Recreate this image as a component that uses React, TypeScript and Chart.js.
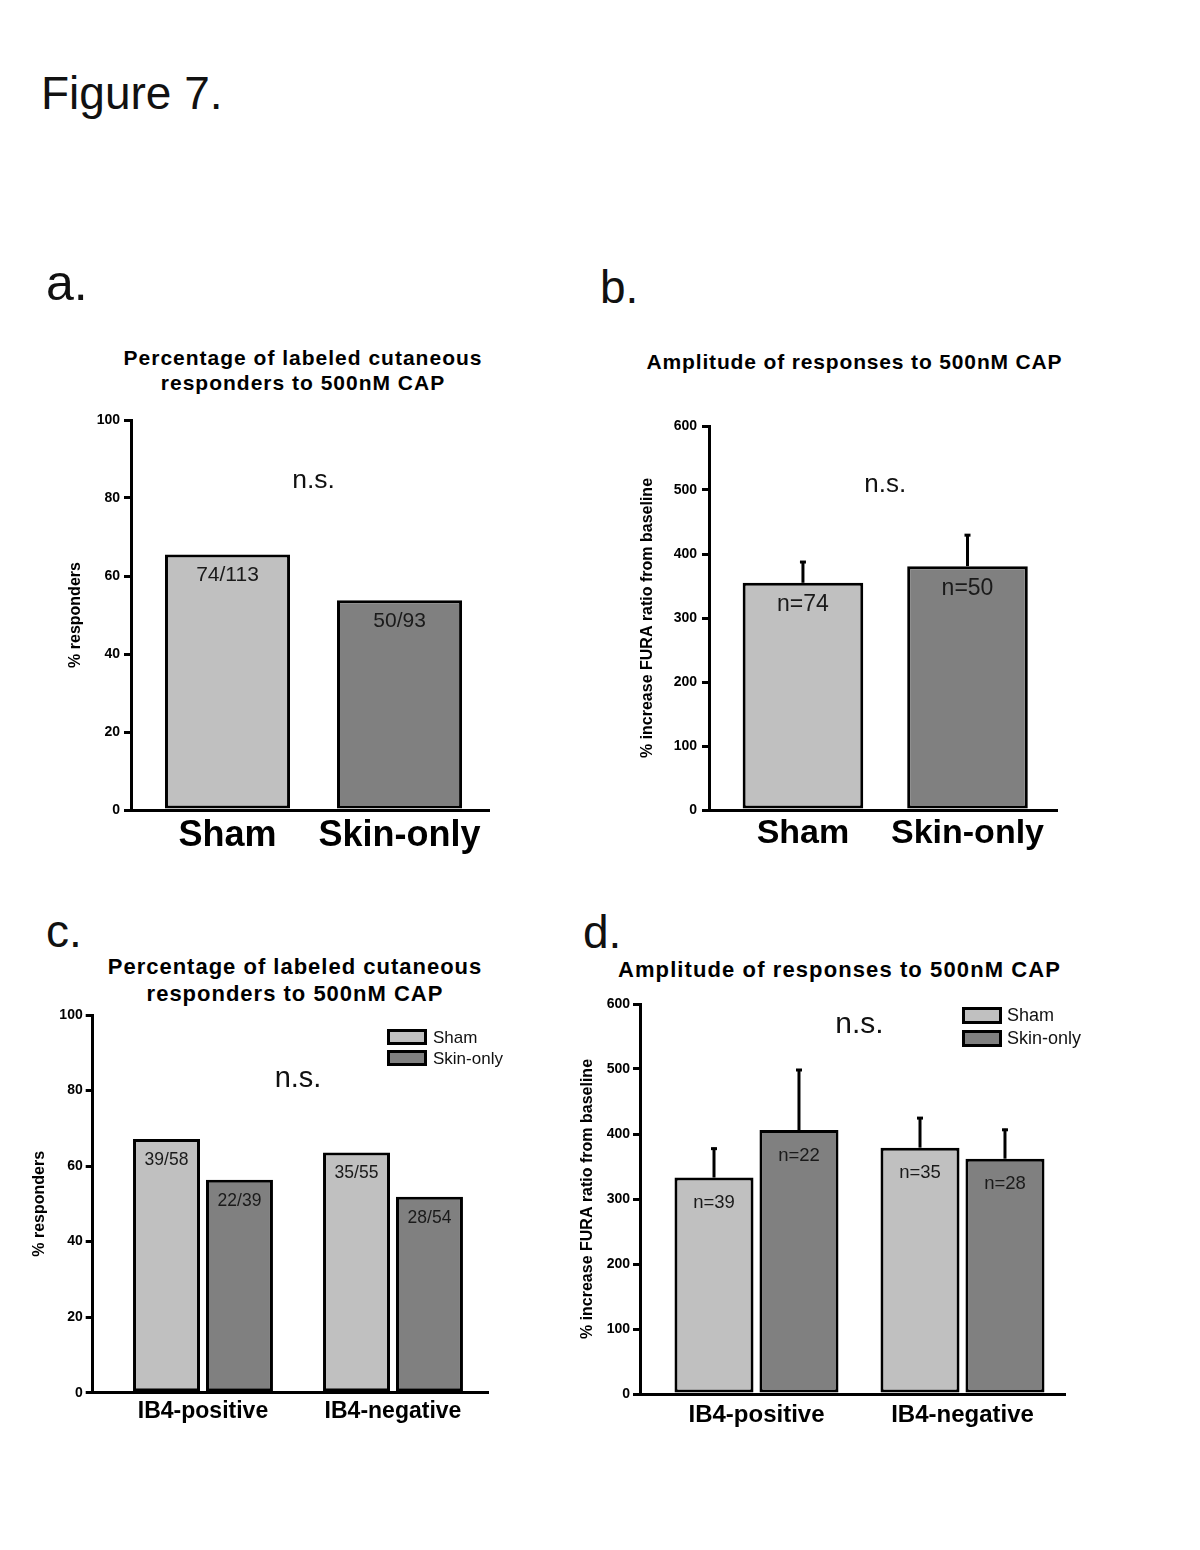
import React, { useEffect, useRef } from "react";
import { Chart, registerables } from "chart.js";

Chart.register(...registerables);

const FONT = "'Liberation Sans', Arial, Helvetica, sans-serif";
Chart.defaults.font.family = FONT;
Chart.defaults.color = "#000";

// ---------- shared ----------
const SERIES_NAMES = ["Sham", "Skin-only"];
const SERIES_COLORS = ["#c0c0c0", "#808080"];
const NS_TEXT = "n.s.";
const NS_X = 0.5;

// ---------- panel a ----------
const A_TITLE = ["Percentage of labeled cutaneous", "responders to 500nM CAP"];
const A_CATEGORIES = ["Sham", "Skin-only"];
const A_VALUES = [65.5, 53.8];
const A_BAR_LABELS = ["74/113", "50/93"];
const A_Y_TITLE = "% responders";
const A_NS_Y = 82.5;

// ---------- panel b ----------
const B_TITLE = ["Amplitude of responses to 500nM CAP"];
const B_CATEGORIES = ["Sham", "Skin-only"];
const B_MEANS = [355, 381];
const B_ERRORS = [34, 50];
const B_BAR_LABELS = ["n=74", "n=50"];
const B_Y_TITLE = "% increase FURA ratio from baseline";
const B_NS_Y = 497;

// ---------- panel c ----------
const C_TITLE = ["Percentage of labeled cutaneous", "responders to 500nM CAP"];
const C_CATEGORIES = ["IB4-positive", "IB4-negative"];
const C_SHAM = [67.2, 63.6];
const C_SKIN = [56.4, 51.9];
const C_SHAM_LABELS = ["39/58", "35/55"];
const C_SKIN_LABELS = ["22/39", "28/54"];
const C_Y_TITLE = "% responders";
const C_NS_Y = 81;

// ---------- panel d ----------
const D_TITLE = ["Amplitude of responses to 500nM CAP"];
const D_CATEGORIES = ["IB4-positive", "IB4-negative"];
const D_SHAM = [333, 379];
const D_SHAM_ERR = [46, 47];
const D_SKIN = [406, 362];
const D_SKIN_ERR = [94, 46];
const D_SHAM_LABELS = ["n=39", "n=35"];
const D_SKIN_LABELS = ["n=22", "n=28"];
const D_Y_TITLE = "% increase FURA ratio from baseline";
const D_NS_Y = 555;

// ---------- y axis ranges ----------
const PCT_MAX = 100;
const PCT_STEP = 20;
const AMP_MAX = 600;
const AMP_STEP = 100;

const toPoints = (vals: number[]) => vals.map((v, i) => ({ x: i, y: v }));

const marksPlugin = {
  id: "figureMarks",
  afterDatasetsDraw(chart: any, _args: any, opts: any) {
    const ctx = chart.ctx;
    const xs = chart.scales.x;
    const ys = chart.scales.y;
    ctx.save();
    chart.data.datasets.forEach((ds: any, di: number) => {
      const meta = chart.getDatasetMeta(di);
      meta.data.forEach((bar: any, i: number) => {
        const pt = ds.data[i];
        if (ds.errors) {
          const yTop = ys.getPixelForValue(pt.y + ds.errors[i]);
          ctx.strokeStyle = "#000";
          ctx.lineWidth = 3;
          ctx.lineCap = "butt";
          ctx.beginPath();
          ctx.moveTo(bar.x, bar.y);
          ctx.lineTo(bar.x, yTop);
          ctx.stroke();
          ctx.beginPath();
          ctx.moveTo(bar.x - 3, yTop + 1);
          ctx.lineTo(bar.x + 3, yTop + 1);
          ctx.stroke();
        }
        if (ds.barLabels) {
          ctx.fillStyle = "#1a1a1a";
          ctx.font = `${opts.labelSize}px ${FONT}`;
          ctx.textAlign = "center";
          ctx.textBaseline = "middle";
          ctx.fillText(ds.barLabels[i], bar.x, bar.y + opts.labelOffset);
        }
      });
    });
    // n.s. annotation
    ctx.fillStyle = "#111";
    ctx.font = `${opts.nsSize}px ${FONT}`;
    ctx.textAlign = "center";
    ctx.textBaseline = "alphabetic";
    ctx.fillText(NS_TEXT, xs.getPixelForValue(NS_X), ys.getPixelForValue(opts.nsY));
    // legend
    const lg = opts.legend;
    if (lg) {
      const area = chart.chartArea;
      chart.data.datasets.forEach((ds: any, di: number) => {
        const bx = area.right - lg.dx;
        const by = area.top + lg.dy + di * lg.gap;
        ctx.fillStyle = ds.backgroundColor;
        ctx.fillRect(bx, by, lg.w, lg.h);
        ctx.strokeStyle = "#000";
        ctx.lineWidth = 3;
        ctx.strokeRect(bx + 1.5, by + 1.5, lg.w - 3, lg.h - 3);
        ctx.fillStyle = "#111";
        ctx.font = `${lg.size}px ${FONT}`;
        ctx.textAlign = "left";
        ctx.textBaseline = "middle";
        ctx.fillText(ds.label, bx + lg.w + lg.textGap, by + lg.h / 2 + 1);
      });
    }
    ctx.restore();
  },
};

function buildConfig(p: any) {
  return {
    type: "bar",
    data: { datasets: p.datasets },
    options: {
      responsive: false,
      animation: false,
      devicePixelRatio: 1,
      layout: { padding: p.padding },
      scales: {
        x: {
          type: "linear",
          offset: false,
          bounds: "data",
          min: p.xMin,
          max: p.xMax,
          afterBuildTicks: (s: any) => {
            s.ticks = p.categories.map((_: string, i: number) => ({ value: i }));
          },
          afterFit: (s: any) => {
            s.height = p.xHeight;
          },
          grid: { display: false, drawTicks: false, offset: false },
          border: { display: true, color: "#000", width: 3 },
          ticks: {
            callback: (v: number) => p.categories[Math.round(v)] ?? "",
            font: { size: p.xFont, weight: "bold" },
            color: "#000",
            padding: p.xPad,
            maxRotation: 0,
            autoSkip: false,
          },
        },
        y: {
          min: 0,
          max: p.yMax,
          afterFit: (s: any) => {
            s.width = p.yWidth;
          },
          ticks: {
            stepSize: p.yStep,
            font: { size: 14, weight: "bold" },
            color: "#000",
            padding: p.yPad,
          },
          grid: {
            display: true,
            drawOnChartArea: false,
            drawTicks: true,
            tickLength: 7,
            lineWidth: 3,
            color: "#000",
          },
          border: { display: true, color: "#000", width: 3 },
          title: {
            display: true,
            text: p.yTitle,
            font: { size: 16, weight: "bold" },
            color: "#000",
            padding: 0,
          },
        },
      },
      plugins: {
        legend: { display: false },
        tooltip: { enabled: false },
        title: { display: false },
        figureMarks: p.marks,
      },
    },
    plugins: [marksPlugin],
  };
}

const barStyle = (color: string, catPct: number, barPct: number) => ({
  backgroundColor: color,
  borderColor: "#000",
  borderWidth: 3,
  borderSkipped: false,
  categoryPercentage: catPct,
  barPercentage: barPct,
});

const PANELS: any[] = [
  {
    key: "a",
    left: 40, top: 400, w: 470, h: 470,
    padding: { left: 26.4, top: 20, right: 21, bottom: 10 },
    yWidth: 64.6, xHeight: 50,
    xMin: -0.561, xMax: 1.52,
    categories: A_CATEGORIES,
    xFont: 36, xPad: 4,
    yMax: PCT_MAX, yStep: PCT_STEP, yPad: 4, yTitle: A_Y_TITLE,
    datasets: [
      {
        label: SERIES_NAMES[0],
        data: toPoints(A_VALUES),
        barLabels: A_BAR_LABELS,
        ...barStyle(SERIES_COLORS[0], 1, 0.727),
        backgroundColor: [SERIES_COLORS[0], SERIES_COLORS[1]],
      },
    ],
    marks: { labelSize: 21, labelOffset: 21, nsSize: 26.5, nsY: A_NS_Y },
  },
  {
    key: "b",
    left: 600, top: 400, w: 480, h: 470,
    padding: { left: 38.4, top: 26, right: 23, bottom: 10 },
    yWidth: 70.6, xHeight: 50,
    xMin: -0.571, xMax: 1.544,
    categories: B_CATEGORIES,
    xFont: 34, xPad: 3,
    yMax: AMP_MAX, yStep: AMP_STEP, yPad: 5, yTitle: B_Y_TITLE,
    datasets: [
      {
        label: SERIES_NAMES[0],
        data: toPoints(B_MEANS),
        errors: B_ERRORS,
        barLabels: B_BAR_LABELS,
        ...barStyle(SERIES_COLORS[0], 1, 0.733),
        backgroundColor: [SERIES_COLORS[0], SERIES_COLORS[1]],
      },
    ],
    marks: { labelSize: 23, labelOffset: 22, nsSize: 26, nsY: B_NS_Y },
  },
  {
    key: "c",
    left: 20, top: 1000, w: 530, h: 440,
    padding: { left: 10.4, top: 15, right: 62, bottom: 7.3 },
    yWidth: 62.3, xHeight: 40,
    xMin: -0.5805, xMax: 1.5,
    categories: C_CATEGORIES,
    xFont: 23, xPad: 5,
    yMax: PCT_MAX, yStep: PCT_STEP, yPad: 3, yTitle: C_Y_TITLE,
    datasets: [
      {
        label: SERIES_NAMES[0],
        data: toPoints(C_SHAM),
        barLabels: C_SHAM_LABELS,
        ...barStyle(SERIES_COLORS[0], 0.768, 0.918),
      },
      {
        label: SERIES_NAMES[1],
        data: toPoints(C_SKIN),
        barLabels: C_SKIN_LABELS,
        ...barStyle(SERIES_COLORS[1], 0.768, 0.918),
      },
    ],
    marks: {
      labelSize: 17.5, labelOffset: 21, nsSize: 29, nsY: C_NS_Y,
      legend: { dx: 101, dy: 14, gap: 21, w: 40, h: 16, size: 17, textGap: 6 },
    },
  },
  {
    key: "d",
    left: 560, top: 990, w: 550, h: 460,
    padding: { left: 18.4, top: 14, right: 45, bottom: 16 },
    yWidth: 61.6, xHeight: 40,
    xMin: -0.5655, xMax: 1.4976,
    categories: D_CATEGORIES,
    xFont: 24, xPad: 6.6,
    yMax: AMP_MAX, yStep: AMP_STEP, yPad: 3, yTitle: D_Y_TITLE,
    datasets: [
      {
        label: SERIES_NAMES[0],
        data: toPoints(D_SHAM),
        errors: D_SHAM_ERR,
        barLabels: D_SHAM_LABELS,
        ...barStyle(SERIES_COLORS[0], 0.825, 0.93),
      },
      {
        label: SERIES_NAMES[1],
        data: toPoints(D_SKIN),
        errors: D_SKIN_ERR,
        barLabels: D_SKIN_LABELS,
        ...barStyle(SERIES_COLORS[1], 0.825, 0.93),
      },
    ],
    marks: {
      labelSize: 18.5, labelOffset: 25.5, nsSize: 30, nsY: D_NS_Y,
      legend: { dx: 103, dy: 3, gap: 23, w: 40, h: 17, size: 18, textGap: 5 },
    },
  },
];

function BarPanel({ cfg }: { cfg: any }) {
  const ref = useRef<HTMLCanvasElement>(null);
  useEffect(() => {
    if (!ref.current) return;
    const chart = new Chart(ref.current, buildConfig(cfg) as any);
    return () => chart.destroy();
  }, [cfg]);
  return (
    <canvas
      ref={ref}
      width={cfg.w}
      height={cfg.h}
      style={{ position: "absolute", left: cfg.left, top: cfg.top, width: cfg.w, height: cfg.h }}
    />
  );
}

const TITLES = [
  { lines: A_TITLE, cx: 303, top: 345.2, size: 21, ls: 1, lh: 25 },
  { lines: B_TITLE, cx: 854.5, top: 348.5, size: 21, ls: 0.85, lh: 25 },
  { lines: C_TITLE, cx: 295, top: 954, size: 22, ls: 1, lh: 26.7 },
  { lines: D_TITLE, cx: 839.5, top: 957.4, size: 22, ls: 1.1, lh: 26 },
];

const LETTERS = [
  { text: "Figure 7.", left: 41, top: 70.4, size: 46 },
  { text: "a.", left: 46, top: 257.7, size: 50 },
  { text: "b.", left: 600, top: 264, size: 46 },
  { text: "c.", left: 46, top: 908, size: 46 },
  { text: "d.", left: 583, top: 909, size: 46 },
];

export default function App() {
  return (
    <div
      style={{
        position: "absolute",
        left: 0,
        top: 0,
        width: 1200,
        height: 1550,
        background: "#fff",
        fontFamily: FONT,
        color: "#111",
        overflow: "hidden",
      }}
    >
      {LETTERS.map((l) => (
        <div
          key={l.text}
          style={{
            position: "absolute",
            left: l.left,
            top: l.top,
            fontSize: l.size,
            lineHeight: 1,
            whiteSpace: "pre",
          }}
        >
          {l.text}
        </div>
      ))}
      {TITLES.map((t, i) => (
        <div
          key={i}
          style={{
            position: "absolute",
            left: t.cx - 300,
            top: t.top,
            width: 600,
            textAlign: "center",
            fontSize: t.size,
            fontWeight: "bold",
            letterSpacing: t.ls,
            lineHeight: `${t.lh}px`,
            whiteSpace: "pre",
            color: "#000",
          }}
        >
          {t.lines.map((ln, j) => (
            <div key={j}>{ln}</div>
          ))}
        </div>
      ))}
      {PANELS.map((p) => (
        <BarPanel key={p.key} cfg={p} />
      ))}
    </div>
  );
}
